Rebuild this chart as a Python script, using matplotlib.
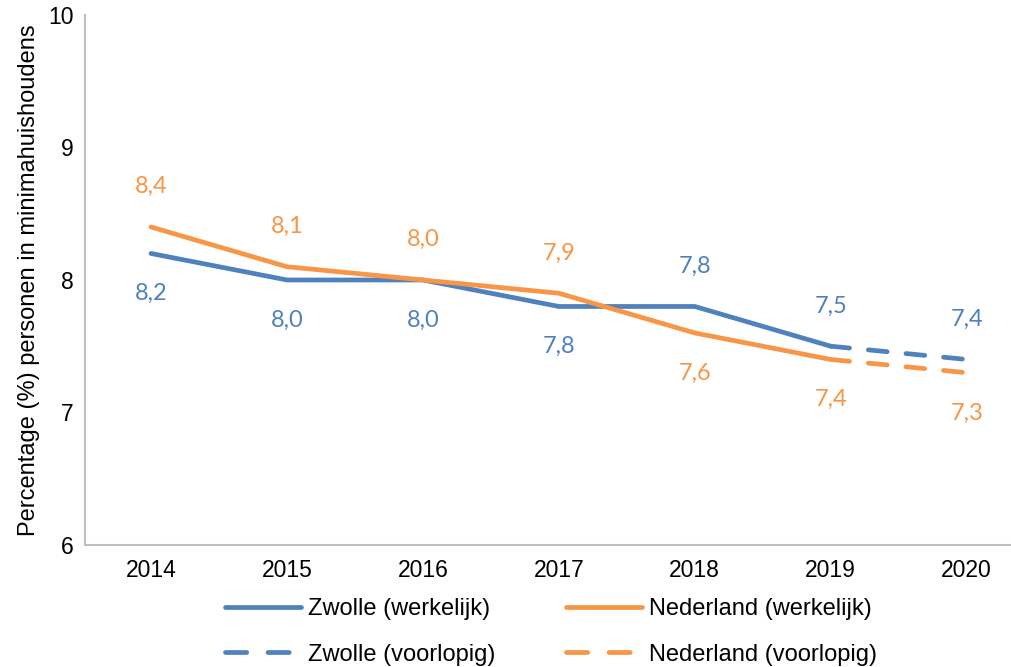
import matplotlib
matplotlib.use("Agg")
import matplotlib.pyplot as plt
from matplotlib.lines import Line2D

plt.rcParams['font.family'] = ['Liberation Sans', 'DejaVu Sans']

years = ['2014', '2015', '2016', '2017', '2018', '2019', '2020']
zwolle = [8.2, 8.0, 8.0, 7.8, 7.8, 7.5, 7.4]
nederland = [8.4, 8.1, 8.0, 7.9, 7.6, 7.4, 7.3]
# label placement: +1 above, -1 below
zwolle_pos = [-1, -1, -1, -1, 1, 1, 1]
nederland_pos = [1, 1, 1, 1, -1, -1, -1]

blue = '#4F81BD'
orange = '#F79646'

fig = plt.figure(figsize=(10.11, 6.67), dpi=100)
ax = fig.add_axes([0.084, 0.183, 0.93, 0.7945])

x = list(range(len(years)))
n_real = 6  # up to 2019 actual, 2019-2020 provisional

for vals, col in [(zwolle, blue), (nederland, orange)]:
    ax.plot(x[:n_real], vals[:n_real], color=col, lw=3.4, solid_capstyle='round',
            solid_joinstyle='round')
    ax.plot(x[n_real - 1:], vals[n_real - 1:], color=col, lw=3.4,
            dashes=(4, 4), dash_capstyle='round')

for vals, pos, col in [(zwolle, zwolle_pos, blue), (nederland, nederland_pos, orange)]:
    for xi, v, p in zip(x, vals, pos):
        ax.annotate(f"{v:.1f}".replace('.', ','), (xi, v), xytext=(0, 29 * p),
                    textcoords='offset points', ha='center', va='center',
                    color=col, fontsize=17, family=['Lato', 'DejaVu Sans'])

ax.set_xlim(-0.486, 6.43)
ax.set_ylim(6, 10)
ax.set_yticks([6, 7, 8, 9, 10])
ax.set_xticks(x)
ax.set_xticklabels(years)
ax.tick_params(length=0, labelsize=16.5, pad=10)
ax.tick_params(axis='y', pad=8)
for s in ['top', 'right']:
    ax.spines[s].set_visible(False)
for s in ['left', 'bottom']:
    ax.spines[s].set_color('#BFBFBF')
    ax.spines[s].set_linewidth(1.5)
ax.set_ylabel('Percentage (%) personen in minimahuishoudens', fontsize=17, labelpad=6)

handles = [
    Line2D([], [], color=blue, lw=3.4, solid_capstyle='round'),
    Line2D([], [], color=blue, lw=3.4, dashes=(4.5, 4.5), dash_capstyle='round'),
    Line2D([], [], color=orange, lw=3.4, solid_capstyle='round'),
    Line2D([], [], color=orange, lw=3.4, dashes=(4.5, 4.5), dash_capstyle='round'),
]
labels = ['Zwolle (werkelijk)', 'Zwolle (voorlopig)',
          'Nederland (werkelijk)', 'Nederland (voorlopig)']
fig.legend(handles, labels, ncol=2, loc='lower center', bbox_to_anchor=(0.545, -0.03),
           frameon=False, fontsize=17, handlelength=3.2, handletextpad=0.3,
           columnspacing=3.0, labelspacing=1.0)

fig.savefig('out.png', dpi=100)
